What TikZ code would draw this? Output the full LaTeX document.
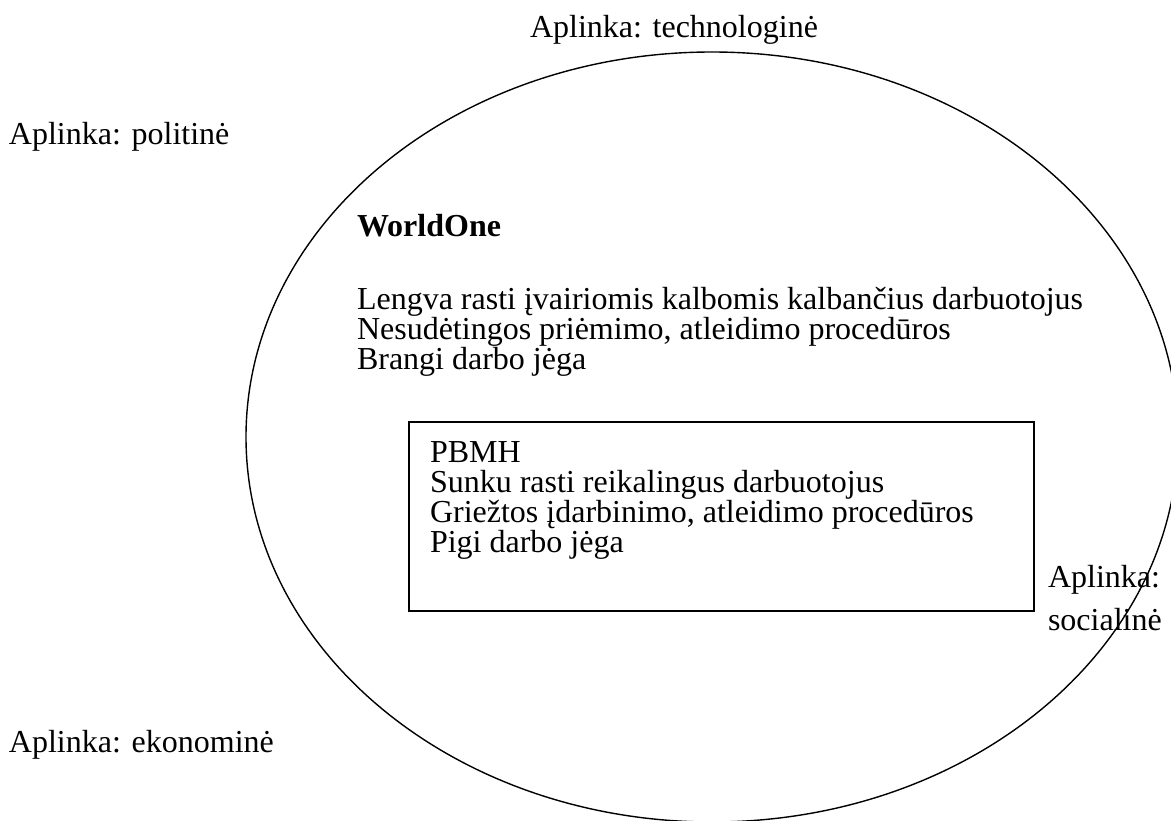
\documentclass[tikz,border=0pt]{standalone}
\usepackage{fontspec}
\setmainfont{Liberation Serif}
\begin{document}
\begin{tikzpicture}[x=1pt,y=-1pt,
  lbl/.style={anchor=base west,inner sep=0pt,outer sep=0pt,font=\fontsize{32}{30}\selectfont},
  shp/.style={draw=black,line width=1.4pt}]
\useasboundingbox (0,0) rectangle (1171,821);
\draw[shp] (712,437) ellipse [x radius=466, y radius=385];
\draw[shp] (409,422) rectangle (1034,611);
\node[lbl] (tech) at (530,38) {Aplinka: technologinė};
\node[lbl] (pol) at (9,145) {Aplinka: politinė};
\node[lbl] (eko) at (9,752) {Aplinka: ekonominė};
\node[lbl] (soc1) at (1048,587) {Aplinka:};
\node[lbl] (soc2) at (1048,630) {socialinė};
\node[lbl,font=\fontsize{32}{30}\selectfont\bfseries] (wo) at (357,237) {WorldOne};
\node[lbl] (w1) at (357,310) {Lengva rasti įvairiomis kalbomis kalbančius darbuotojus};
\node[lbl] (w2) at (357,340) {Nesudėtingos priėmimo, atleidimo procedūros};
\node[lbl] (w3) at (357,370) {Brangi darbo jėga};
\node[lbl] (p0) at (430,462) {PBMH};
\node[lbl] (p1) at (430,492) {Sunku rasti reikalingus darbuotojus};
\node[lbl] (p2) at (430,522) {Griežtos įdarbinimo, atleidimo procedūros};
\node[lbl] (p3) at (430,552) {Pigi darbo jėga};
\end{tikzpicture}
\end{document}
